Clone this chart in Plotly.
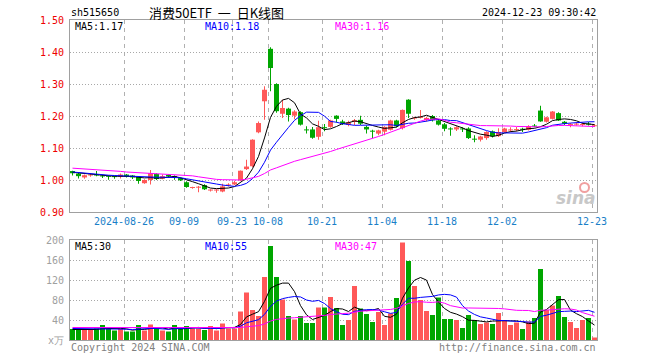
import plotly.graph_objects as go

# ---------------- data ----------------
dates = [
    "2024-08-13", "2024-08-14", "2024-08-15", "2024-08-16", "2024-08-19", "2024-08-20", "2024-08-21",
    "2024-08-22", "2024-08-23", "2024-08-26", "2024-08-27", "2024-08-28", "2024-08-29", "2024-08-30",
    "2024-09-02", "2024-09-03", "2024-09-04", "2024-09-05", "2024-09-06", "2024-09-09", "2024-09-10",
    "2024-09-11", "2024-09-12", "2024-09-13", "2024-09-18", "2024-09-19", "2024-09-20", "2024-09-23",
    "2024-09-24", "2024-09-25", "2024-09-26", "2024-09-27", "2024-09-30", "2024-10-08", "2024-10-09",
    "2024-10-10", "2024-10-11", "2024-10-14", "2024-10-15", "2024-10-16", "2024-10-17", "2024-10-18",
    "2024-10-21", "2024-10-22", "2024-10-23", "2024-10-24", "2024-10-25", "2024-10-28", "2024-10-29",
    "2024-10-30", "2024-10-31", "2024-11-01", "2024-11-04", "2024-11-05", "2024-11-06", "2024-11-07",
    "2024-11-08", "2024-11-11", "2024-11-12", "2024-11-13", "2024-11-14", "2024-11-15", "2024-11-18",
    "2024-11-19", "2024-11-20", "2024-11-21", "2024-11-22", "2024-11-25", "2024-11-26", "2024-11-27",
    "2024-11-28", "2024-11-29", "2024-12-02", "2024-12-03", "2024-12-04", "2024-12-05", "2024-12-06",
    "2024-12-09", "2024-12-10", "2024-12-11", "2024-12-12", "2024-12-13", "2024-12-16", "2024-12-17",
    "2024-12-18", "2024-12-19", "2024-12-20", "2024-12-23",
]

opens = [
    1.028, 1.020, 1.008, 1.014, 1.018, 1.014, 1.012, 1.012, 1.010, 1.017,
    1.014, 1.010, 0.990, 1.000, 1.019, 1.004, 1.016, 1.012, 1.006, 0.993,
    0.975, 0.976, 0.984, 0.967, 0.967, 0.964, 0.983, 0.986, 0.999, 1.034,
    1.043, 1.149, 1.246, 1.410, 1.300, 1.207, 1.223, 1.201, 1.212, 1.158,
    1.158, 1.135, 1.165, 1.166, 1.201, 1.183, 1.172, 1.182, 1.188, 1.166,
    1.153, 1.145, 1.151, 1.157, 1.186, 1.162, 1.251, 1.192, 1.194, 1.187,
    1.200, 1.186, 1.174, 1.160, 1.158, 1.161, 1.161, 1.128, 1.126, 1.131,
    1.152, 1.137, 1.150, 1.155, 1.156, 1.160, 1.157, 1.169, 1.217, 1.182,
    1.191, 1.209, 1.182, 1.172, 1.173, 1.172, 1.176, 1.168,
]
highs = [
    1.029, 1.022, 1.017, 1.020, 1.028, 1.016, 1.014, 1.013, 1.020, 1.019,
    1.016, 1.012, 1.002, 1.031, 1.021, 1.017, 1.019, 1.014, 1.008, 0.996,
    0.979, 0.981, 0.987, 0.971, 0.971, 0.988, 0.990, 0.998, 1.030, 1.063,
    1.127, 1.183, 1.293, 1.415, 1.302, 1.251, 1.226, 1.218, 1.215, 1.168,
    1.166, 1.185, 1.175, 1.188, 1.202, 1.188, 1.185, 1.191, 1.201, 1.170,
    1.157, 1.157, 1.168, 1.188, 1.188, 1.220, 1.252, 1.198, 1.219, 1.198,
    1.203, 1.189, 1.178, 1.165, 1.168, 1.165, 1.165, 1.140, 1.138, 1.152,
    1.155, 1.162, 1.163, 1.165, 1.166, 1.163, 1.171, 1.175, 1.232, 1.198,
    1.216, 1.212, 1.184, 1.178, 1.180, 1.180, 1.181, 1.174,
]
lows = [
    1.014, 1.005, 1.004, 1.010, 1.012, 1.006, 1.001, 1.004, 1.005, 1.008,
    1.003, 0.988, 0.988, 0.986, 1.000, 1.002, 1.008, 1.001, 0.997, 0.976,
    0.973, 0.962, 0.969, 0.964, 0.960, 0.962, 0.980, 0.984, 0.997, 1.031,
    1.040, 1.146, 1.188, 1.277, 1.210, 1.194, 1.183, 1.190, 1.170, 1.145,
    1.129, 1.126, 1.152, 1.163, 1.180, 1.172, 1.168, 1.172, 1.172, 1.145,
    1.131, 1.140, 1.140, 1.155, 1.165, 1.158, 1.194, 1.188, 1.192, 1.183,
    1.183, 1.170, 1.152, 1.138, 1.153, 1.150, 1.128, 1.118, 1.120, 1.126,
    1.133, 1.134, 1.148, 1.150, 1.152, 1.150, 1.155, 1.165, 1.182, 1.180,
    1.189, 1.184, 1.172, 1.165, 1.170, 1.168, 1.170, 1.166,
]
closes = [
    1.021, 1.012, 1.015, 1.016, 1.014, 1.011, 1.010, 1.009, 1.017, 1.011,
    1.008, 0.997, 1.000, 1.021, 1.003, 1.012, 1.011, 1.009, 0.999, 0.978,
    0.977, 0.979, 0.971, 0.969, 0.969, 0.980, 0.986, 0.993, 1.029, 1.042,
    1.126, 1.178, 1.282, 1.350, 1.215, 1.225, 1.203, 1.214, 1.173, 1.155,
    1.132, 1.165, 1.162, 1.186, 1.191, 1.177, 1.180, 1.187, 1.176, 1.158,
    1.151, 1.155, 1.166, 1.186, 1.168, 1.219, 1.207, 1.195, 1.197, 1.194,
    1.187, 1.173, 1.160, 1.158, 1.165, 1.158, 1.131, 1.126, 1.136, 1.150,
    1.137, 1.150, 1.161, 1.158, 1.158, 1.157, 1.168, 1.167, 1.183, 1.196,
    1.214, 1.186, 1.176, 1.174, 1.175, 1.174, 1.173, 1.170,
]
# up (red) / down (green) flag as drawn
up = [
    0, 0, 1, 1, 0, 0, 0, 0, 1, 0,
    0, 0, 1, 1, 0, 1, 0, 0, 0, 0,
    1, 1, 0, 1, 1, 1, 1, 1, 1, 1,
    1, 1, 1, 0, 0, 1, 0, 1, 0, 0,
    0, 1, 0, 1, 0, 0, 1, 1, 0, 0,
    0, 1, 1, 1, 0, 1, 0, 1, 1, 1,
    0, 0, 0, 0, 1, 0, 0, 0, 1, 1,
    0, 1, 1, 1, 1, 0, 1, 0, 0, 1,
    1, 0, 0, 1, 1, 1, 0, 1,
]
# volume (万)
volumes = [
    22, 20, 20, 20, 23, 30, 22, 19, 23, 17,
    17, 30, 19, 31, 22, 19, 17, 30, 22, 28,
    23, 23, 20, 28, 19, 33, 23, 23, 57, 95,
    60, 48, 126, 188, 126, 81, 48, 41, 48, 34,
    34, 65, 65, 86, 64, 30, 40, 108, 63, 52,
    36, 56, 30, 53, 84, 195, 158, 108, 80, 58,
    50, 85, 42, 42, 40, 24, 50, 40, 32, 35,
    32, 54, 40, 30, 35, 22, 37, 44, 142, 60,
    69, 88, 46, 36, 24, 40, 44, 5,
]

# moving-average values before a full window is available
ma5_head = [1.024, 1.022, 1.020, 1.018]
ma10_head = [1.025, 1.023, 1.021, 1.019, 1.017, 1.016, 1.015, 1.014, 1.013]
ma30_head = [1.037, 1.036, 1.035, 1.034, 1.033, 1.032, 1.030, 1.029, 1.027, 1.025,
             1.024, 1.023, 1.022, 1.021, 1.020, 1.019, 1.019, 1.018, 1.017, 1.015,
             1.013, 1.010, 1.007, 1.004, 1.002, 1.001, 1.000, 1.000, 1.000]
vma5_head = [21, 21, 21, 21]
vma10_head = [23, 23, 22, 22, 22, 22, 22, 22, 22]
vma30_head = [25, 25, 25, 25, 25, 25, 25, 25, 25, 24, 24, 24, 24, 24, 24, 24, 24, 24,
              24, 24, 24, 24, 24, 24, 24, 24, 24, 24, 25]

tick_dates = ["2024-08-26", "2024-09-09", "2024-09-23", "2024-10-08", "2024-10-21",
              "2024-11-04", "2024-11-18", "2024-12-02", "2024-12-23"]
price_ticks = [0.90, 1.00, 1.10, 1.20, 1.30, 1.40, 1.50]
vol_ticks = [0, 40, 80, 120, 160, 200]

price_ma_labels = ["MA5:1.17", "MA10:1.18", "MA30:1.16"]
vol_ma_labels = ["MA5:30", "MA10:55", "MA30:47"]
code_text = "sh515650"
title_text = "消费50ETF  一  日K线图"
time_text = "2024-12-23 09:30:42"
copyright_text = "Copyright 2024 SINA.COM"
url_text = "http://finance.sina.com.cn"


def moving_avg(values, n, head):
    out = list(head)
    for i in range(len(head), len(values)):
        out.append(sum(values[i - n + 1:i + 1]) / n)
    return out


ma5 = moving_avg(closes, 5, ma5_head)
ma10 = moving_avg(closes, 10, ma10_head)
ma30 = moving_avg(closes, 30, ma30_head)
vma5 = moving_avg(volumes, 5, vma5_head)
vma10 = moving_avg(volumes, 10, vma10_head)
vma30 = moving_avg(volumes, 30, vma30_head)

# ---------------- style ----------------
RED = "#FF5858"
GREEN = "#00A600"
MA_COLORS = ["#000000", "#0000FF", "#FF00FF"]
MONO = "DejaVu Sans Mono"
W, H = 660, 360
L, R, T, B = 70, 63, 20, 20
PW, PH = W - L - R, H - T - B
n = len(dates)
idx = list(range(n))
bar_w = 5 / 6
wick_w = 1 / 6
one_px_price = 0.6 / 192
colors = [RED if u else GREEN for u in up]


def px(xp):
    return (xp - L) / PW


def py(yp):
    return (H - B - yp) / PH


fig = go.Figure()

# wicks
fig.add_trace(go.Bar(x=idx, base=lows, y=[h - l for h, l in zip(highs, lows)], width=wick_w,
                     marker=dict(color=colors, line=dict(width=0)), xaxis="x", yaxis="y",
                     hoverinfo="skip"))
# bodies
fig.add_trace(go.Bar(x=idx, base=[min(o, c) for o, c in zip(opens, closes)],
                     y=[max(abs(c - o), one_px_price) for o, c in zip(opens, closes)],
                     width=bar_w, marker=dict(color=colors, line=dict(width=0)),
                     xaxis="x", yaxis="y"))
for series, col in zip([ma5, ma10, ma30], MA_COLORS):
    fig.add_trace(go.Scatter(x=idx, y=series, mode="lines", line=dict(color=col, width=1),
                             xaxis="x", yaxis="y"))

# volume
fig.add_trace(go.Bar(x=idx, y=volumes, width=bar_w, marker=dict(color=colors, line=dict(width=0)),
                     xaxis="x2", yaxis="y2"))
for series, col in zip([vma5, vma10, vma30], MA_COLORS):
    fig.add_trace(go.Scatter(x=idx, y=series, mode="lines", line=dict(color=col, width=1),
                             xaxis="x2", yaxis="y2"))

tickvals_x = [dates.index(d) - 5 / 12 for d in tick_dates]
ticktext_x = [d if i == 0 else d[5:] for i, d in enumerate(tick_dates)]
xr = [-5 / 12, n - 1 + 5 / 12]

common_x = dict(range=xr, tickvals=tickvals_x, showgrid=True, gridcolor="#B0B0B0",
                griddash="4px,4px", gridwidth=1, showline=True, mirror=True, linecolor="#A0A0A0",
                linewidth=1, zeroline=False, ticks="", fixedrange=True, automargin=False)
common_y = dict(showgrid=True, gridcolor="#A8A8A8", griddash="1px,2px", gridwidth=1,
                showline=True, mirror=True, linecolor="#A0A0A0", linewidth=1, zeroline=False,
                ticks="", ticklabelstandoff=3, automargin=False, fixedrange=True)

annotations = []


def add_text(text, x, y, color, size=10, family=MONO, xanchor="left", **kw):
    annotations.append(dict(text=text, x=px(x), y=py(y), xref="paper", yref="paper",
                            xanchor=xanchor, yanchor="middle", showarrow=False,
                            font=dict(family=family, size=size, color=color), borderpad=0, **kw))


add_text(code_text, 70, 13, "#000000")
add_text(title_text, 216, 12, "#000000", size=13, family="Noto Sans CJK SC", xanchor="center")
add_text(time_text, 597, 13, "#000000", xanchor="right")
for lbl, xpos, col in zip(price_ma_labels, [74, 204, 334], MA_COLORS):
    add_text(lbl, xpos, 26, col)
for lbl, xpos, col in zip(vol_ma_labels, [74, 204, 334], MA_COLORS):
    add_text(lbl, xpos, 246, col)
add_text(copyright_text, 70, 347, "#808080")
add_text(url_text, 597, 347, "#808080", xanchor="right")
add_text("<b><i>sina</i></b>", 597, 198, "#C8C8C8", size=17, family="DejaVu Sans", xanchor="right")

fig.update_layout(
    template="none",
    width=W, height=H, margin=dict(l=L, r=R, t=T, b=B, pad=0, autoexpand=False),
    paper_bgcolor="white", plot_bgcolor="white", showlegend=False, barmode="overlay",
    hovermode=False,
    xaxis=dict(common_x, domain=[0, 1], anchor="y", showticklabels=True, ticktext=ticktext_x,
               tickfont=dict(family=MONO, size=10, color="#1A7FC8")),
    xaxis2=dict(common_x, domain=[0, 1], anchor="y2", matches="x", showticklabels=False),
    yaxis=dict(common_y, domain=[0.4, 1], range=[0.9, 1.5], tickvals=price_ticks,
               ticktext=[f"{v:.2f}" for v in price_ticks], anchor="x",
               tickfont=dict(family=MONO, size=10, color="#EE0000")),
    yaxis2=dict(common_y, domain=[0, 100 / PH], range=[0, 200], tickvals=vol_ticks, anchor="x2",
                ticktext=["x万"] + [str(v) for v in vol_ticks[1:]],
                tickfont=dict(family=MONO, size=10, color="#A0A0A0")),
    annotations=annotations,
    shapes=[dict(type="circle", xref="paper", yref="paper", x0=px(580), x1=px(589),
                 y0=py(192), y1=py(183), line=dict(color="#F0A0A0", width=2))],
)

fig.write_html("out.html", config={"displayModeBar": False, "staticPlot": True},
               post_script="document.body.style.margin='0';document.body.style.padding='0';")
